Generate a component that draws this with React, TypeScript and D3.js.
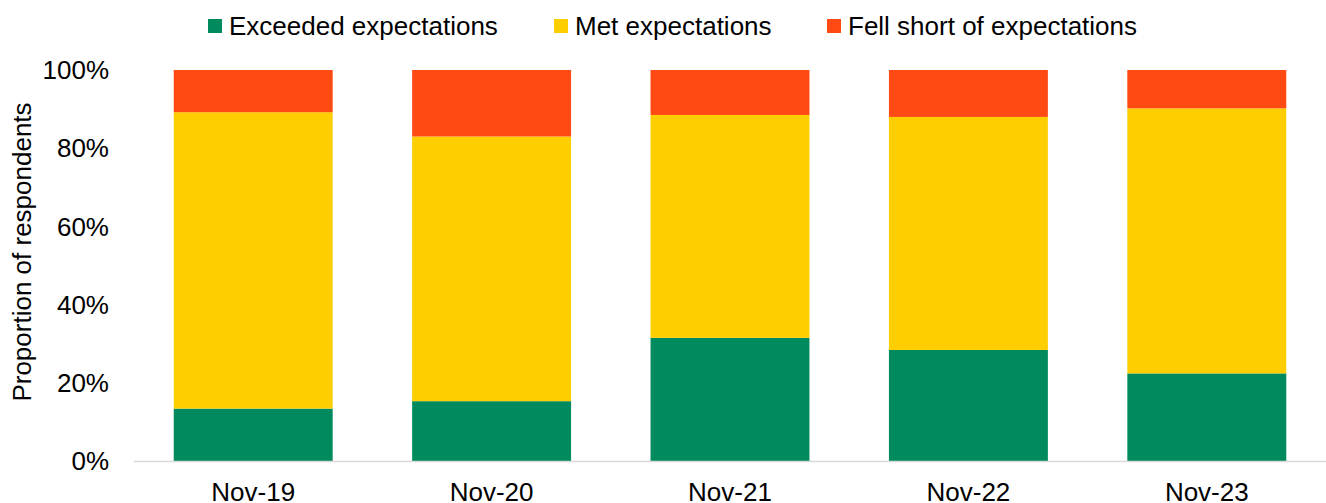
import React, { useEffect, useRef } from 'react';
import * as d3 from 'd3';

const months = ['Nov-19', 'Nov-20', 'Nov-21', 'Nov-22', 'Nov-23'];
const exceeded = [13.4, 15.3, 31.5, 28.4, 22.4];
const met = [75.8, 67.7, 57.0, 59.6, 67.8];
const fellShort = [10.8, 17.0, 11.5, 12.0, 9.8];
const seriesNames = ['Exceeded expectations', 'Met expectations', 'Fell short of expectations'];
const yTicks = [0, 20, 40, 60, 80, 100];

const colors = ['#008A5E', '#FECE00', '#FF4A14'];

const StackedChart = () => {
  const chartRef = useRef<HTMLDivElement | null>(null);

  useEffect(() => {
    const svgWidth = 1326;
    const svgHeight = 503;
    const margin = { top: 70, right: 0, bottom: 42, left: 134 };
    const width = svgWidth - margin.left - margin.right;
    const height = svgHeight - margin.top - margin.bottom;
    const font = 'Liberation Sans, Arial, sans-serif';

    const rows = months.map((m, i) => ({
      month: m,
      exceeded: exceeded[i],
      met: met[i],
      fell: fellShort[i],
    }));

    const svg = d3
      .select(chartRef.current)
      .append('svg')
      .attr('width', svgWidth)
      .attr('height', svgHeight)
      .style('display', 'block');

    const g = svg.append('g').attr('transform', `translate(${margin.left},${margin.top})`);

    const x = d3.scaleBand().domain(months).range([0, width]).paddingInner(1 / 3).paddingOuter(1 / 6);
    const y = d3.scaleLinear().domain([0, 100]).range([height, 0]);

    const stack = d3.stack<any>().keys(['exceeded', 'met', 'fell']);
    const layers = stack(rows);

    // bars
    g.selectAll('.layer')
      .data(layers)
      .enter()
      .append('g')
      .attr('class', 'layer')
      .attr('fill', (_d, i) => colors[i])
      .selectAll('rect')
      .data((d) => d)
      .enter()
      .append('rect')
      .attr('x', (d: any) => x(d.data.month) as number)
      .attr('width', x.bandwidth())
      .attr('y', (d) => y(d[1]))
      .attr('height', (d) => y(d[0]) - y(d[1]));

    // x axis line
    g.append('line')
      .attr('x1', 0)
      .attr('x2', width)
      .attr('y1', height + 0.5)
      .attr('y2', height + 0.5)
      .attr('stroke', '#D9D9D9')
      .attr('stroke-width', 1.5);

    // x labels
    g.selectAll('.xlab')
      .data(months)
      .enter()
      .append('text')
      .attr('class', 'xlab')
      .attr('x', (d) => (x(d) as number) + x.bandwidth() / 2)
      .attr('y', height + 40)
      .attr('text-anchor', 'middle')
      .style('font-family', font)
      .style('font-size', '26px')
      .attr('fill', '#000')
      .text((d) => d);

    // y labels
    g.selectAll('.ylab')
      .data(yTicks)
      .enter()
      .append('text')
      .attr('class', 'ylab')
      .attr('x', -25)
      .attr('y', (d) => y(d))
      .attr('dy', '0.35em')
      .attr('text-anchor', 'end')
      .style('font-family', font)
      .style('font-size', '26px')
      .attr('fill', '#000')
      .text((d) => `${d}%`);

    // y title
    svg.append('text')
      .attr('transform', `translate(31,${252}) rotate(-90)`)
      .attr('text-anchor', 'middle')
      .style('font-family', font)
      .style('font-size', '26px')
      .attr('fill', '#000')
      .text('Proportion of respondents');

    // legend
    const legendX = [208, 554, 827];
    const legend = svg.selectAll('.legend')
      .data(seriesNames)
      .enter()
      .append('g')
      .attr('class', 'legend')
      .attr('transform', (_d, i) => `translate(${legendX[i]},0)`);

    legend.append('rect')
      .attr('x', 0)
      .attr('y', 19)
      .attr('width', 14)
      .attr('height', 14)
      .attr('fill', (_d, i) => colors[i]);

    legend.append('text')
      .attr('x', 21)
      .attr('y', 35)
      .style('font-family', font)
      .style('font-size', '26px')
      .attr('fill', '#000')
      .text((d) => d);

    return () => {
      d3.select(chartRef.current).selectAll('*').remove();
    };
  }, []);

  return <div ref={chartRef} style={{ position: 'absolute', left: 0, top: 0 }}></div>;
};

export default function App() {
  return <StackedChart />;
}
